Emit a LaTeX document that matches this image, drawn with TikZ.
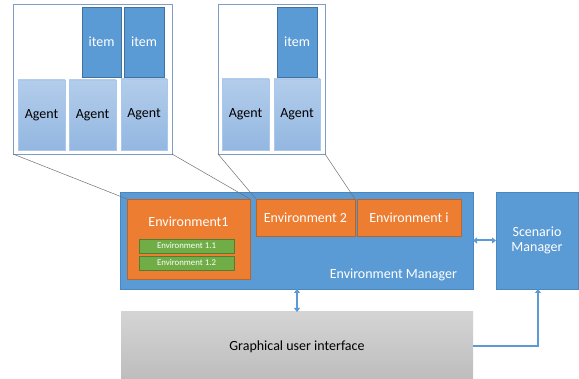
\documentclass[tikz,border=0pt]{standalone}
\usepackage{fontspec}
\setmainfont{Carlito}
\usetikzlibrary{arrows.meta}
\definecolor{mblue}{HTML}{5B9BD5}
\definecolor{mblueline}{HTML}{4A86C0}
\definecolor{itemline}{HTML}{41719C}
\definecolor{agtop}{HTML}{B3CDEB}
\definecolor{agbot}{HTML}{93B7E1}
\definecolor{agline}{HTML}{A9C8EA}
\definecolor{morange}{HTML}{ED7D31}
\definecolor{orline}{HTML}{B8652A}
\definecolor{mgreen}{HTML}{70AD47}
\definecolor{grline}{HTML}{507E32}
\definecolor{panelline}{HTML}{7F9DC2}
\definecolor{guitop}{HTML}{D4D4D4}
\definecolor{guibot}{HTML}{BDBDBD}
\definecolor{zoomline}{HTML}{707070}
\tikzset{
  base/.style={anchor=north west, inner sep=0pt, outer sep=0pt, font=\fontsize{14}{16}\selectfont, align=center},
  panel/.style={base, draw=panelline, line width=0.8pt, fill=white},
  itembox/.style={base, fill=mblue, draw=itemline, line width=0.6pt, text=white},
  agentbox/.style={base, top color=agtop, bottom color=agbot, draw=agline, line width=0.6pt},
  bluebox/.style={base, fill=mblue, draw=mblueline, line width=0.6pt, text=white},
  envbox/.style={base, fill=morange, draw=orline, line width=0.6pt, text=white},
  subenv/.style={base, fill=mgreen, draw=grline, line width=0.6pt, text=white, font=\fontsize{8.8}{10}\selectfont},
  guibox/.style={base, top color=guitop, bottom color=guibot, draw=none},
  zoom/.style={draw=zoomline, line width=0.5pt},
  link/.style={draw=mblue, line width=2pt, {Triangle[width=6pt,length=4pt]}-{Triangle[width=6pt,length=4pt]}},
  onelink/.style={draw=mblue, line width=2pt, -{Triangle[width=6pt,length=4pt]}}
}
\begin{document}
\begin{tikzpicture}[x=1pt,y=-1pt]
\useasboundingbox (0,0) rectangle (579,379);

% first zoomed environment
\node[panel, minimum width=159pt, minimum height=150pt] (p1) at (13,4) {};
\node[itembox, minimum width=39pt, minimum height=70pt] (i1a) at (82,7) {item};
\node[itembox, minimum width=40pt, minimum height=70pt] (i1b) at (124,7) {item};
\node[agentbox, minimum width=47pt, minimum height=70pt] (a1a) at (18,80) {Agent};
\node[agentbox, minimum width=47pt, minimum height=70pt] (a1b) at (69,80) {Agent};
\node[agentbox, minimum width=46pt, minimum height=71pt] (a1c) at (121,79) {Agent};

% second zoomed environment
\node[panel, minimum width=107pt, minimum height=150pt] (p2) at (218,4) {};
\node[itembox, minimum width=40pt, minimum height=70pt] (i2) at (277,7) {item};
\node[agentbox, minimum width=47pt, minimum height=71pt] (a2a) at (222,79) {Agent};
\node[agentbox, minimum width=46pt, minimum height=71pt] (a2b) at (274,79) {Agent};

% environment manager and its environments
\node[bluebox, minimum width=353pt, minimum height=97pt] (em) at (120,192) {};
\node[base, text=white, anchor=east] (emlabel) at (457,275) {Environment Manager};
\node[envbox, minimum width=123pt, minimum height=80pt] (e1) at (127,199) {};
\node[base, text=white, anchor=center] (e1label) at (188.5,221.5) {Environment1};
\node[subenv, minimum width=95pt, minimum height=14pt] (e11) at (139,239) {Environment 1.1};
\node[subenv, minimum width=95pt, minimum height=14pt] (e12) at (139,256) {Environment 1.2};
\node[envbox, minimum width=99pt, minimum height=37pt] (e2) at (256,199) {Environment 2};
\node[envbox, minimum width=104pt, minimum height=37pt] (ei) at (357,199) {Environment i};

% scenario manager
\node[bluebox, minimum width=82pt, minimum height=97pt] (sm) at (496,192) {Scenario\\[-1pt]Manager};

% graphical user interface
\node[guibox, minimum width=352pt, minimum height=68pt] (gui) at (121,312) {};
\node[base, anchor=center] (guilabel) at (297,346.5) {Graphical user interface};

% zoom lines
\draw[zoom] (p1.south west) -- (e1.north west);
\draw[zoom] (p1.south east) -- (e1.north east);
\draw[zoom] (p2.south west) -- (e2.north west);
\draw[zoom] (p2.south east) -- (e2.north east);

% connectors
\draw[link] (em.east |- 0,240.5) -- (sm.west |- 0,240.5);
\draw[link] (em.south -| 297,0) -- (gui.north -| 297,0);
\draw[onelink] (gui.east |- 0,346.5) -| (sm.south -| 538,0);
\end{tikzpicture}
\end{document}
